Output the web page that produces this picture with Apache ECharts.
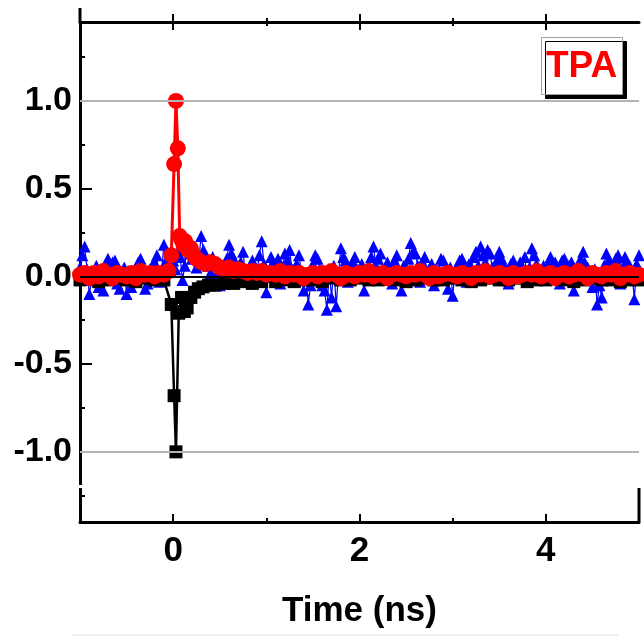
<!DOCTYPE html>
<html>
<head>
<meta charset="utf-8">
<script src="https://cdn.jsdelivr.net/npm/echarts@6/dist/echarts.min.js"></script>
<style>
html,body{margin:0;padding:0;background:#fff;}
#chart{width:644px;height:636px;}
</style>
</head>
<body>
<div id="chart"></div>
<script>
// ---- data ----
var xMajorTicks = [0, 2, 4];
var xMinorTicks = [1, 3];
var yMajorTicks = [-1, -0.5, 0, 0.5, 1];
var yMinorTicks = [-1.25, -0.75, -0.25, 0.25, 0.75, 1.25];
var xTitle = 'Time (ns)';
var panelLabel = 'TPA';

var blueTime = [
-1,-0.975,-0.95,-0.925,-0.9,-0.875,-0.85,-0.825,-0.8,-0.775,-0.75,-0.725,-0.7,-0.675,-0.65,-0.625,-0.6,-0.575,-0.55,-0.525,
-0.5,-0.475,-0.45,-0.425,-0.4,-0.375,-0.35,-0.325,-0.3,-0.275,-0.25,-0.225,-0.2,-0.175,-0.15,-0.125,-0.1,-0.075,-0.05,-0.025,
0,0.025,0.05,0.075,0.1,0.125,0.15,0.175,0.2,0.225,0.25,0.275,0.3,0.325,0.35,0.375,0.4,0.425,0.45,0.475,
0.5,0.525,0.55,0.575,0.6,0.625,0.65,0.675,0.7,0.725,0.75,0.775,0.8,0.825,0.85,0.875,0.9,0.925,0.95,0.975,
1,1.025,1.05,1.075,1.1,1.125,1.15,1.175,1.2,1.225,1.25,1.275,1.3,1.325,1.35,1.375,1.4,1.425,1.45,1.475,
1.5,1.525,1.55,1.575,1.6,1.625,1.65,1.675,1.7,1.725,1.75,1.775,1.8,1.825,1.85,1.875,1.9,1.925,1.95,1.975,
2,2.025,2.05,2.075,2.1,2.125,2.15,2.175,2.2,2.225,2.25,2.275,2.3,2.325,2.35,2.375,2.4,2.425,2.45,2.475,
2.5,2.525,2.55,2.575,2.6,2.625,2.65,2.675,2.7,2.725,2.75,2.775,2.8,2.825,2.85,2.875,2.9,2.925,2.95,2.975,
3,3.025,3.05,3.075,3.1,3.125,3.15,3.175,3.2,3.225,3.25,3.275,3.3,3.325,3.35,3.375,3.4,3.425,3.45,3.475,
3.5,3.525,3.55,3.575,3.6,3.625,3.65,3.675,3.7,3.725,3.75,3.775,3.8,3.825,3.85,3.875,3.9,3.925,3.95,3.975,
4,4.025,4.05,4.075,4.1,4.125,4.15,4.175,4.2,4.225,4.25,4.275,4.3,4.325,4.35,4.375,4.4,4.425,4.45,4.475,
4.5,4.525,4.55,4.575,4.6,4.625,4.65,4.675,4.7,4.725,4.75,4.775,4.8,4.825,4.85,4.875,4.9,4.925,4.95,4.975,5];
var blueValues = [
0.05,0.12,0.17,0.04,-0.10,-0.02,0.03,0.06,-0.06,0.01,-0.08,0.07,0.10,0.03,0.08,0.09,-0.04,-0.07,0.02,0.05,
-0.10,0.02,-0.06,-0.03,0.05,0.08,0.10,0.01,-0.07,-0.04,0.04,0.06,0.08,0.12,-0.03,0.02,0.18,0.09,0.06,0.03,
0.09,0.04,0.14,0.11,-0.02,0.06,0.20,0.13,0.10,0.16,0.05,0.09,0.23,0.15,0.12,0.06,0.02,0.11,0.08,0.03,
-0.05,0.02,0.06,0.10,0.18,0.13,0.10,0.05,0.04,0.08,0.14,0.01,-0.03,0.05,0.09,-0.02,0.03,0.12,0.20,0.07,
-0.09,0.03,0.11,0.08,0.06,0.10,-0.04,0.05,0.13,0.09,0.15,0.04,0.02,0.07,0.12,0.03,-0.08,0.01,-0.16,-0.05,
0.07,0.12,0.10,0.04,-0.05,-0.08,-0.19,0.03,-0.12,0.06,-0.17,0.02,0.16,0.11,0.09,-0.03,0.05,0.08,0.11,0.04,
0.03,0.07,-0.08,0.02,0.06,0.11,0.17,0.06,0.10,0.13,0.02,-0.02,0.08,0.04,-0.04,0.09,0.12,0.03,-0.08,0.06,
0.05,0.10,0.19,0.14,0.13,0.06,-0.03,0.08,0.11,0.02,0.04,0.07,-0.05,0.04,0.02,0.10,0.09,0.03,-0.07,0.05,
-0.11,0.02,0.06,0.09,0.10,0.04,-0.03,0.07,0.05,0.11,0.14,0.06,0.17,0.12,0.08,0.15,0.13,0.05,0.03,0.09,
0.14,0.10,0.06,0.03,-0.04,0.07,0.09,0.04,0.02,0.08,0.05,0.11,-0.03,0.05,0.16,0.12,0.07,0.03,-0.02,0.06,
0.04,0.07,0.11,0.02,0.08,0.05,-0.04,0.09,0.10,0.03,0.06,0.08,-0.08,0.01,0.03,0.10,0.14,0.07,0.05,0.02,
-0.06,0.04,-0.16,-0.05,-0.12,0.06,0.13,0.09,0.07,0.03,0.10,0.12,-0.04,0.05,0.11,0.08,0.06,0.02,-0.13,0.07,0.12];

var redTime = [
-1.00,-0.95,-0.90,-0.85,-0.80,-0.75,-0.70,-0.65,-0.60,-0.55,-0.50,-0.45,-0.40,-0.35,-0.30,-0.25,-0.20,-0.15,-0.10,-0.05,
-0.02,0.01,0.03,0.05,0.07,0.09,0.11,0.13,0.16,0.19,0.22,0.25,0.30,0.35,0.40,0.45,0.50,0.55,0.60,0.65,0.70,0.75,0.80,0.85,0.90,0.95,1.00,
1.05,1.10,1.15,1.20,1.25,1.30,1.35,1.40,1.45,1.50,1.55,1.60,1.65,1.70,1.75,1.80,1.85,1.90,1.95,2.00,
2.05,2.10,2.15,2.20,2.25,2.30,2.35,2.40,2.45,2.50,2.55,2.60,2.65,2.70,2.75,2.80,2.85,2.90,2.95,3.00,
3.05,3.10,3.15,3.20,3.25,3.30,3.35,3.40,3.45,3.50,3.55,3.60,3.65,3.70,3.75,3.80,3.85,3.90,3.95,4.00,
4.05,4.10,4.15,4.20,4.25,4.30,4.35,4.40,4.45,4.50,4.55,4.60,4.65,4.70,4.75,4.80,4.85,4.90,4.95,5.00];
var redValues = [
0.01,0.02,-0.01,0.02,0.00,0.03,0.01,-0.01,0.02,0.01,0.00,0.02,-0.01,0.03,0.01,0.02,0.00,0.02,0.01,0.03,
0.12,0.64,1.00,0.73,0.23,0.21,0.18,0.20,0.15,0.16,0.12,0.10,0.08,0.07,0.08,0.07,0.05,0.04,0.05,0.03,0.04,0.03,0.02,0.03,0.02,0.03,0.01,
0.02,0.01,0.03,0.00,0.02,0.01,0.02,-0.01,0.01,0.02,0.00,0.02,0.01,0.03,0.01,-0.01,0.02,0.01,0.00,0.02,
0.01,0.03,0.00,0.01,0.02,-0.01,0.01,0.02,0.01,0.00,0.02,0.01,0.03,0.01,-0.01,0.02,0.00,0.01,0.02,0.01,
0.00,0.02,0.01,-0.01,0.02,0.01,0.03,0.00,0.01,0.02,0.01,-0.01,0.02,0.00,0.01,0.02,0.01,0.03,0.00,0.01,
0.02,-0.01,0.01,0.02,0.00,0.01,0.03,0.01,-0.01,0.02,0.01,0.00,0.02,0.01,0.03,-0.01,0.01,0.02,0.00,0.01];

var blackTime = [
-1.0,-0.9,-0.8,-0.7,-0.6,-0.5,-0.4,-0.3,-0.2,-0.1,
-0.02,0.01,0.03,0.06,0.09,0.12,0.15,0.19,0.23,0.27,0.32,0.38,0.45,0.55,0.65,0.75,0.85,0.95,
1.1,1.2,1.3,1.4,1.5,1.6,1.7,1.8,1.9,2.0,2.1,2.2,2.3,2.4,2.5,2.6,2.7,2.8,2.9,3.0,
3.1,3.2,3.3,3.4,3.5,3.6,3.7,3.8,3.9,4.0,4.1,4.2,4.3,4.4,4.5,4.6,4.7,4.8,4.9,5.0];
var blackValues = [
-0.02,-0.01,-0.03,-0.02,-0.01,-0.02,-0.03,-0.01,-0.02,-0.02,
-0.16,-0.68,-1.00,-0.21,-0.12,-0.20,-0.18,-0.12,-0.09,-0.07,-0.06,-0.05,-0.05,-0.04,-0.04,-0.03,-0.04,-0.03,
-0.03,-0.02,-0.03,-0.02,-0.02,-0.03,-0.01,-0.02,-0.02,-0.01,-0.02,-0.02,-0.01,-0.02,-0.03,-0.02,-0.01,-0.02,-0.02,-0.01,
-0.02,-0.03,-0.02,-0.01,-0.02,-0.02,-0.01,-0.03,-0.02,-0.02,-0.01,-0.02,-0.03,-0.02,-0.01,-0.02,-0.02,-0.03,-0.02,-0.02];

var refLines = [1, -1];
var zeroLine = [0];

function pairs(xs, ys) {
  var out = [];
  for (var i = 0; i < xs.length; i++) out.push([xs[i], ys[i]]);
  return out;
}

var FONT = 'Liberation Sans';
var chart = echarts.init(document.getElementById('chart'), null, {renderer: 'canvas'});

function xAx(pos, showLine, ticks, len, inside, labels) {
  return {
    type: 'value', position: pos, min: -1, max: 5, interval: 1,
    axisLine: {show: showLine, onZero: false, lineStyle: {color: '#000', width: 3}},
    axisTick: {show: true, inside: inside, length: len, customValues: ticks, lineStyle: {color: '#000', width: 2}},
    axisLabel: labels ? {show: true, customValues: xMajorTicks, color: '#000', fontFamily: FONT, fontWeight: 'bold', fontSize: 35, margin: 12} : {show: false},
    splitLine: {show: false}
  };
}

var xAxes = [
  xAx('bottom', true, xMajorTicks, 8, true, true),
  xAx('bottom', false, xMinorTicks, 4, true, false),
  xAx('top', true, xMajorTicks, 8, true, false),
  xAx('top', false, xMajorTicks, 8, false, false),
  xAx('top', false, xMinorTicks, 4, true, false),
  xAx('top', false, xMinorTicks, 4, false, false)
];
xAxes[0].name = xTitle;
xAxes[0].nameLocation = 'middle';
xAxes[0].nameGap = 72;
xAxes[0].nameTextStyle = {color: '#000', fontFamily: FONT, fontWeight: 'bold', fontSize: 35};

var option = {
  animation: false,
  backgroundColor: '#fff',
  title: {
    text: panelLabel, left: 541, top: 37,
    padding: [11, 5, 10, 5],
    backgroundColor: '#fff', borderColor: '#a0a0a0', borderWidth: 1,
    shadowColor: '#000', shadowBlur: 0, shadowOffsetX: 4, shadowOffsetY: 4,
    textStyle: {color: '#ff0000', fontFamily: FONT, fontWeight: 'bold', fontSize: 37}
  },
  grid: {left: 80, right: 5, top: 22, bottom: 114, containLabel: false},
  xAxis: xAxes,
  yAxis: [
    {
      type: 'value', position: 'left', min: -1.4, max: 1.45, interval: 0.05,
      axisLine: {show: true, onZero: false, lineStyle: {color: '#000', width: 3}},
      axisTick: {show: true, inside: true, length: 12, customValues: yMajorTicks, lineStyle: {color: '#000', width: 2}},
      axisLabel: {show: true, customValues: yMajorTicks, formatter: function (v) { return v.toFixed(1); },
        color: '#000', fontFamily: FONT, fontWeight: 'bold', fontSize: 34, margin: 8},
      splitLine: {show: false}
    },
    {
      type: 'value', position: 'left', min: -1.4, max: 1.45, interval: 0.05,
      axisLine: {show: false, onZero: false},
      axisTick: {show: true, inside: true, length: 5, customValues: yMinorTicks, lineStyle: {color: '#000', width: 2}},
      axisLabel: {show: false},
      splitLine: {show: false}
    }
  ],
  series: [
    {
      type: 'line', name: 'ref', data: [], z: 1, silent: true,
      markLine: {silent: true, symbol: 'none', label: {show: false},
        lineStyle: {color: '#b4b4b4', width: 2, type: 'solid'},
        data: refLines.map(function (v) { return {yAxis: v}; })}
    },
    {
      type: 'line', name: 'blue', data: pairs(blueTime, blueValues), z: 2,
      symbol: 'triangle', symbolSize: 12, showAllSymbol: true,
      lineStyle: {color: '#0000ff', width: 1.2},
      itemStyle: {color: '#0000ff'}
    },
    {
      type: 'line', name: 'black', data: pairs(blackTime, blackValues), z: 3,
      symbol: 'rect', symbolSize: 13, showAllSymbol: true,
      lineStyle: {color: '#000', width: 2.5},
      itemStyle: {color: '#000'}
    },
    {
      type: 'line', name: 'TPA', data: pairs(redTime, redValues), z: 4,
      symbol: 'circle', symbolSize: 16, showAllSymbol: true,
      lineStyle: {color: '#ff0000', width: 3},
      itemStyle: {color: '#ff0000'}
    },
    {
      type: 'line', name: 'zero', data: [], z: 10, silent: true,
      markLine: {silent: true, symbol: 'none', label: {show: false},
        lineStyle: {color: '#000', width: 2, type: 'solid'},
        data: zeroLine.map(function (v) { return {yAxis: v}; })}
    }
  ],
  graphic: [
    {type: 'line', shape: {x1: 80, y1: 8, x2: 80, y2: 22}, style: {stroke: '#000', lineWidth: 3}},
    {type: 'rect', shape: {x: 77, y: 485, width: 7, height: 3}, style: {fill: '#fff'}, z: 100},
    {type: 'line', shape: {x1: 639, y1: 488, x2: 639, y2: 522}, style: {stroke: '#000', lineWidth: 3}},
    {type: 'line', shape: {x1: 72, y1: 635, x2: 618, y2: 635}, style: {stroke: '#dddddd', lineWidth: 1}}
  ]
};
chart.setOption(option);
</script>
</body>
</html>
